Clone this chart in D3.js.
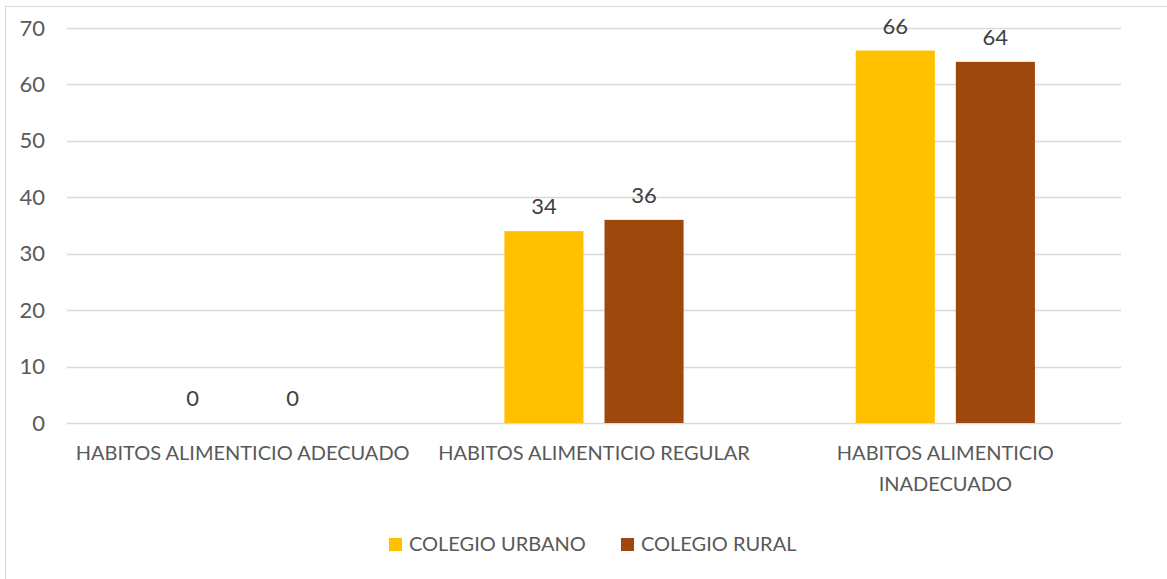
<!DOCTYPE html>
<html>
<head>
<meta charset="utf-8">
<script src="https://cdn.jsdelivr.net/npm/d3@7"></script>
<style>
	body { margin: 0; background: #fff; }
	svg { display: block; font-family: Lato, "Open Sans", sans-serif; }
</style>
</head>
<body>
<div class="chart"></div>
<script>
// data
let categories = ["HABITOS ALIMENTICIO ADECUADO", "HABITOS ALIMENTICIO REGULAR", "HABITOS ALIMENTICIO INADECUADO"];
let seriesNames = ["COLEGIO URBANO", "COLEGIO RURAL"];
let urbano = [0, 34, 66];
let rural = [0, 36, 64];
let yTicks = [0, 10, 20, 30, 40, 50, 60, 70];
let colors = ["#FFC000", "#9E480E"];

let width = 1167, height = 579;
let plotLeft = 67, plotRight = 1121, plotTop = 28, plotBottom = 423;

let svg = d3.select(".chart")
	.append("svg")
	.attr("width", width)
	.attr("height", height);

// chart frame (cut off at right/bottom like the screenshot)
svg.append("rect")
	.attr("x", 5.5).attr("y", 6.5)
	.attr("width", 1170).attr("height", 580)
	.attr("fill", "none")
	.attr("stroke", "#d9d9d9");

let x = d3.scaleBand().domain(categories).range([plotLeft, plotRight]);
let x1 = d3.scaleBand().domain(seriesNames).range([0, x.bandwidth()])
	.paddingInner(0.21).paddingOuter(0.86);
let y = d3.scaleLinear().domain([0, 70]).range([plotBottom, plotTop]);

// gridlines
svg.append("g").selectAll("line")
	.data(yTicks)
	.enter().append("line")
	.attr("x1", plotLeft).attr("x2", plotRight)
	.attr("y1", d => Math.round(y(d)) + 0.5)
	.attr("y2", d => Math.round(y(d)) + 0.5)
	.attr("stroke", "#d9d9d9")
	.attr("stroke-width", 1.3);

// y axis labels
let yAxis = svg.append("g")
	.attr("transform", "translate(" + (plotLeft - 22) + ",0)")
	.call(d3.axisLeft(y).tickValues(yTicks).tickSize(0).tickPadding(0));
yAxis.select(".domain").remove();
yAxis.selectAll("text")
	.attr("fill", "#595959")
	.style("font-size", "22px")
	.style("font-family", "Lato, sans-serif");

// bars
let rows = categories.map((c, i) => ({ cat: c, vals: [urbano[i], rural[i]] }));
let groups = svg.append("g").selectAll("g")
	.data(rows)
	.enter().append("g")
	.attr("transform", d => "translate(" + x(d.cat) + ",0)");

groups.selectAll("rect")
	.data(d => d.vals.map((v, j) => ({ s: seriesNames[j], v: v, j: j })))
	.enter().append("rect")
	.attr("x", d => x1(d.s))
	.attr("width", x1.bandwidth())
	.attr("y", d => y(d.v))
	.attr("height", d => y(0) - y(d.v))
	.attr("fill", d => colors[d.j]);

groups.selectAll("text")
	.data(d => d.vals.map((v, j) => ({ s: seriesNames[j], v: v })))
	.enter().append("text")
	.attr("x", d => x1(d.s) + x1.bandwidth() / 2)
	.attr("y", d => y(d.v) - 17)
	.attr("text-anchor", "middle")
	.attr("fill", "#404040")
	.style("font-size", "22px")
	.text(d => d.v);

// category labels, wrapped like excel does
let maxW = x.step() * 0.96;
let catLabels = svg.append("g").selectAll("text")
	.data(categories)
	.enter().append("text")
	.attr("x", d => x(d) + x.bandwidth() / 2)
	.attr("y", 460)
	.attr("text-anchor", "middle")
	.attr("fill", "#595959")
	.style("font-size", "20px")
	.text(d => d);

catLabels.each(function(d) {
	let t = d3.select(this);
	if (this.getComputedTextLength() <= maxW) return;
	let words = d.split(" ");
	t.text(null);
	let line = [];
	let tspan = t.append("tspan").attr("x", t.attr("x")).attr("dy", 0);
	words.forEach(w => {
		line.push(w);
		tspan.text(line.join(" "));
		if (tspan.node().getComputedTextLength() > maxW && line.length > 1) {
			line.pop();
			tspan.text(line.join(" "));
			line = [w];
			tspan = t.append("tspan").attr("x", t.attr("x")).attr("dy", 31).text(w);
		}
	});
});

// legend
let legendX = [389, 621];
let legend = svg.append("g").selectAll("g")
	.data(seriesNames)
	.enter().append("g")
	.attr("transform", (d, i) => "translate(" + legendX[i] + ",538)");
legend.append("rect")
	.attr("width", 13).attr("height", 13)
	.attr("fill", (d, i) => colors[i]);
legend.append("text")
	.attr("x", 20).attr("y", 13)
	.attr("fill", "#595959")
	.style("font-size", "20px")
	.text(d => d);
</script>
</body>
</html>
